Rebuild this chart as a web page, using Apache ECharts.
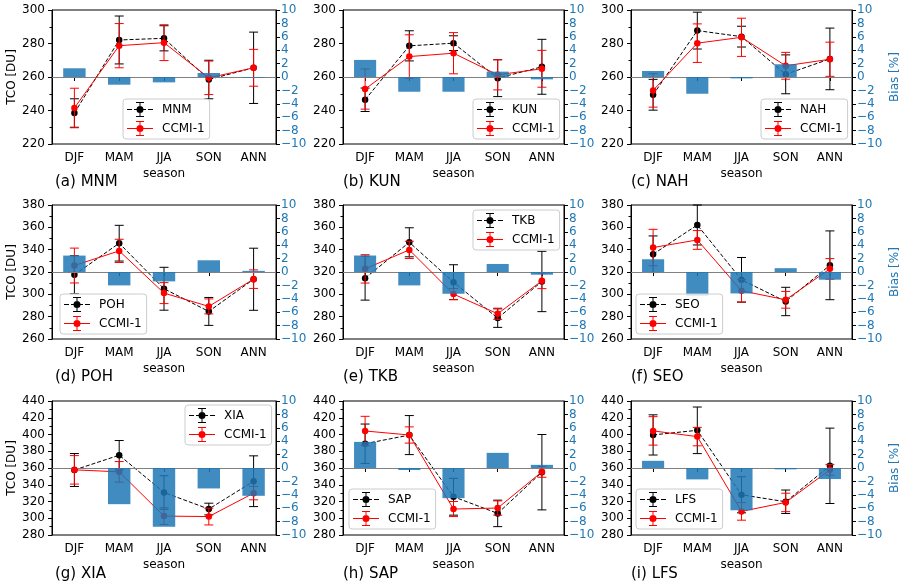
<!DOCTYPE html>
<html><head><meta charset="utf-8">
<script src="https://cdn.jsdelivr.net/npm/echarts@6/dist/echarts.min.js"></script>
<style>html,body{margin:0;padding:0;background:#fff}#c{width:908px;height:588px}</style>
</head><body><div id="c"></div>
<script>
// ---------------- data ----------------
const seasons = ['DJF', 'MAM', 'JJA', 'SON', 'ANN'];
const stations = ['MNM', 'KUN', 'NAH', 'POH', 'TKB', 'SEO', 'XIA', 'SAP', 'LFS'];
const letters = ['a', 'b', 'c', 'd', 'e', 'f', 'g', 'h', 'i'];

// station (observed) TCO mean [DU], order = stations
const obsTCO = [
  [238.5, 282.1, 283.1, 258.5, 265.5],
  [246.4, 278.6, 280.2, 259.3, 266.1],
  [249.4, 287.7, 284.1, 261.6, 270.8],
  [317.5, 345.8, 305.0, 284.7, 313.5],
  [314.5, 346.6, 310.9, 278.7, 311.5],
  [335.9, 362.1, 313.0, 293.6, 326.0],
  [357.6, 375.3, 330.8, 311.0, 344.2],
  [389.0, 399.3, 325.7, 305.8, 355.0],
  [399.5, 405.0, 328.0, 319.7, 362.6]
];
const obsStd = [
  [8.5, 14.3, 7.5, 11.5, 21.3],
  [7.0, 9.0, 4.4, 11.0, 16.4],
  [9.2, 11.0, 6.2, 11.6, 18.4],
  [17.0, 16.0, 19.2, 12.5, 27.8],
  [19.7, 13.0, 15.6, 8.3, 27.0],
  [16.4, 17.9, 20.0, 12.7, 30.8],
  [19.7, 17.5, 20.0, 7.0, 30.3],
  [23.5, 23.3, 22.0, 15.8, 45.0],
  [24.0, 27.8, 21.5, 14.0, 45.0]
];
// CCMI-1 TCO mean [DU]
const ccmiTCO = [
  [241.5, 278.7, 280.5, 259.5, 265.5],
  [252.8, 272.2, 274.2, 261.3, 264.9],
  [252.0, 280.2, 283.7, 266.7, 270.6],
  [325.8, 338.9, 301.1, 289.2, 313.6],
  [322.8, 339.8, 300.2, 282.6, 312.1],
  [341.9, 348.7, 303.2, 295.1, 322.8],
  [357.8, 355.4, 302.6, 302.0, 330.0],
  [404.2, 399.4, 311.0, 312.2, 355.4],
  [404.3, 397.5, 308.2, 318.9, 357.8]
];
const ccmiStd = [
  [11.8, 13.2, 10.7, 10.0, 11.0],
  [12.0, 13.0, 12.3, 9.0, 11.0],
  [10.0, 11.5, 11.4, 8.0, 10.2],
  [15.6, 10.4, 9.4, 6.7, 8.3],
  [12.7, 7.7, 5.0, 5.0, 7.0],
  [16.3, 8.4, 10.0, 7.5, 9.2],
  [17.0, 12.3, 10.0, 10.0, 8.0],
  [17.5, 9.7, 9.0, 8.5, 6.5],
  [17.0, 11.0, 10.5, 11.0, 6.5]
];
// Bias [%]
const biasPct = [
  [1.3, -1.15, -0.8, 0.6, -0.1],
  [2.55, -2.2, -2.2, 0.8, -0.35],
  [0.9, -2.5, -0.2, 1.9, 0.0],
  [2.45, -2.0, -1.4, 1.75, 0.17],
  [2.46, -2.0, -3.25, 1.2, -0.4],
  [1.9, -3.6, -3.2, 0.57, -1.15],
  [0.0, -5.4, -8.75, -3.05, -4.15],
  [3.9, -0.3, -4.5, 2.26, 0.47],
  [1.07, -1.7, -6.3, -0.2, -1.65]
];
// axis ranges per row
const tcoMin = [220, 260, 280];
const tcoMax = [300, 380, 440];
const tcoStep = 20;
const biasMin = -10, biasMax = 10, biasStep = 2;

// ---------------- layout ----------------
const gridLeft = [52, 343, 631];
const gridWidth = [224, 221, 221];
const gridTop = [10, 205, 401];
const gridHeight = 134;
const titleLeft = [55, 343, 631];
const titleTop = [175, 370, 567];
const legendPos = [[123, 99], [473, 99], [761, 99], [60, 294], [473, 210], [636, 294], [185, 405], [349, 489], [636, 489]];

const FONT = 'DejaVu Sans';
const BLUE = '#1f77b4';
const iconObs = 'path://M0,7H5V8H0Z M7,7H12V8H7Z M14,7H19V8H14Z M21,7H26V8H21Z M12.5,0H13.5V15H12.5Z M9,0H17V1H9Z M9,14H17V15H9Z M9.5,7.5A3.5,3.5 0 1,1 16.5,7.5A3.5,3.5 0 1,1 9.5,7.5Z';
const iconMod = 'path://M0,7H26V8H0Z M12.5,0H13.5V15H12.5Z M9,0H17V1H9Z M9,14H17V15H9Z M9.5,7.5A3.5,3.5 0 1,1 16.5,7.5A3.5,3.5 0 1,1 9.5,7.5Z';

function errRenderer(color) {
  return function (params, api) {
    const x = api.value(0);
    const p1 = api.coord([x, api.value(1)]);
    const p2 = api.coord([x, api.value(2)]);
    const cx = p1[0];
    const w = 4.5;
    const st = { stroke: color, lineWidth: 1, fill: null };
    return {
      type: 'group',
      children: [
        { type: 'line', shape: { x1: cx, y1: p1[1], x2: cx, y2: p2[1] }, style: st },
        { type: 'line', shape: { x1: cx - w, y1: p1[1], x2: cx + w, y2: p1[1] }, style: st },
        { type: 'line', shape: { x1: cx - w, y1: p2[1], x2: cx + w, y2: p2[1] }, style: st }
      ]
    };
  };
}

const grids = [], xAxes = [], yAxes = [], series = [], titles = [], legends = [];
stations.forEach((st, i) => {
  const r = Math.floor(i / 3), c = i % 3;
  grids.push({ left: gridLeft[c], top: gridTop[r], width: gridWidth[c], height: gridHeight,
    show: true, borderColor: '#000', borderWidth: 1, backgroundColor: 'transparent' });
  xAxes.push({
    type: 'category', gridIndex: i, data: seasons, boundaryGap: true,
    axisLine: { show: true, lineStyle: { color: '#000', width: 1 } },
    axisTick: { show: true, alignWithLabel: true, length: 4, lineStyle: { color: '#000' } },
    axisLabel: { fontSize: 12, color: '#000', margin: 8, fontFamily: FONT },
    splitLine: { show: false },
    name: 'season', nameLocation: 'middle', nameGap: 24,
    nameTextStyle: { fontSize: 12, color: '#000', fontFamily: FONT }
  });
  const left = {
    type: 'value', gridIndex: i, position: 'left', min: tcoMin[r], max: tcoMax[r], interval: tcoStep,
    axisLine: { show: true, lineStyle: { color: '#000', width: 1 } },
    axisTick: { show: true, length: 4, lineStyle: { color: '#000' } },
    minorTick: { show: true, splitNumber: 2, length: 2.5, lineStyle: { color: '#000' } },
    axisLabel: { fontSize: 12, color: '#000', margin: 7, fontFamily: FONT },
    splitLine: { show: false }, minorSplitLine: { show: false }
  };
  if (c === 0) {
    left.name = 'TCO [DU]'; left.nameLocation = 'middle'; left.nameGap = 34; left.nameRotate = 90;
    left.nameTextStyle = { fontSize: 12, color: '#000', fontFamily: FONT };
  }
  yAxes.push(left);
  const right = {
    type: 'value', gridIndex: i, position: 'right', min: biasMin, max: biasMax, interval: biasStep,
    axisLine: { show: true, lineStyle: { color: '#000', width: 1 } },
    axisTick: { show: true, length: 4, lineStyle: { color: '#000' } },
    axisLabel: { fontSize: 12, color: BLUE, margin: 5, fontFamily: FONT,
      formatter: v => (v < 0 ? '\u2212' + Math.abs(v) : String(v)) },
    splitLine: { show: false }
  };
  if (c === 2) {
    right.name = 'Bias [%]'; right.nameLocation = 'middle'; right.nameGap = 37; right.nameRotate = 90;
    right.nameTextStyle = { fontSize: 12, color: BLUE, fontFamily: FONT };
  }
  yAxes.push(right);

  series.push({
    type: 'custom', name: st + ' error', xAxisIndex: i, yAxisIndex: 2 * i, z: 2, silent: true,
    renderItem: errRenderer('#000'), encode: { x: 0, y: [1, 2] },
    data: seasons.map((s, j) => [j, obsTCO[i][j] - obsStd[i][j], obsTCO[i][j] + obsStd[i][j]])
  });
  series.push({
    type: 'line', name: st, xAxisIndex: i, yAxisIndex: 2 * i, z: 3, data: obsTCO[i],
    symbol: 'circle', symbolSize: 6.5, itemStyle: { color: '#000' },
    lineStyle: { color: '#000', width: 1, type: [4, 2] }
  });
  series.push({
    type: 'custom', name: 'CCMI-1 error ' + st, xAxisIndex: i, yAxisIndex: 2 * i, z: 4, silent: true,
    renderItem: errRenderer('#ff0000'), encode: { x: 0, y: [1, 2] },
    data: seasons.map((s, j) => [j, ccmiTCO[i][j] - ccmiStd[i][j], ccmiTCO[i][j] + ccmiStd[i][j]])
  });
  series.push({
    type: 'line', name: 'CCMI-1', xAxisIndex: i, yAxisIndex: 2 * i, z: 5, data: ccmiTCO[i],
    symbol: 'circle', symbolSize: 6.5, itemStyle: { color: '#ff0000' },
    lineStyle: { color: '#ff0000', width: 1 }
  });
  series.push({
    type: 'bar', name: 'Bias ' + st, xAxisIndex: i, yAxisIndex: 2 * i + 1, z: 6, data: biasPct[i],
    barWidth: '50%', itemStyle: { color: 'rgba(31,119,180,0.85)' },
    markLine: { silent: true, symbol: ['none', 'none'], label: { show: false },
      lineStyle: { color: '#808080', width: 1, type: 'solid' }, data: [{ yAxis: 0 }] }
  });

  titles.push({ text: '(' + letters[i] + ') ' + st, left: titleLeft[c], top: titleTop[r], padding: 0,
    textStyle: { fontSize: 15, fontWeight: 'normal', color: '#000', fontFamily: FONT } });

  legends.push({
    orient: 'vertical', left: legendPos[i][0], top: legendPos[i][1], z: 10,
    itemWidth: 26, itemHeight: 15, itemGap: 4, padding: [3, 5, 3, 4],
    borderColor: '#cccccc', borderWidth: 1, borderRadius: 3, backgroundColor: 'rgba(255,255,255,0.85)',
    itemStyle: { borderWidth: 0 },
    textStyle: { fontSize: 12, color: '#000', fontFamily: FONT, padding: [0, 0, 0, 4] },
    selectedMode: false,
    data: [{ name: st, icon: iconObs }, { name: 'CCMI-1', icon: iconMod }]
  });
});

const chart = echarts.init(document.getElementById('c'), null, { renderer: 'canvas' });
chart.setOption({
  animation: false,
  backgroundColor: '#fff',
  textStyle: { fontFamily: FONT },
  title: titles,
  legend: legends,
  grid: grids,
  xAxis: xAxes,
  yAxis: yAxes,
  series: series
});
</script>
</body></html>
